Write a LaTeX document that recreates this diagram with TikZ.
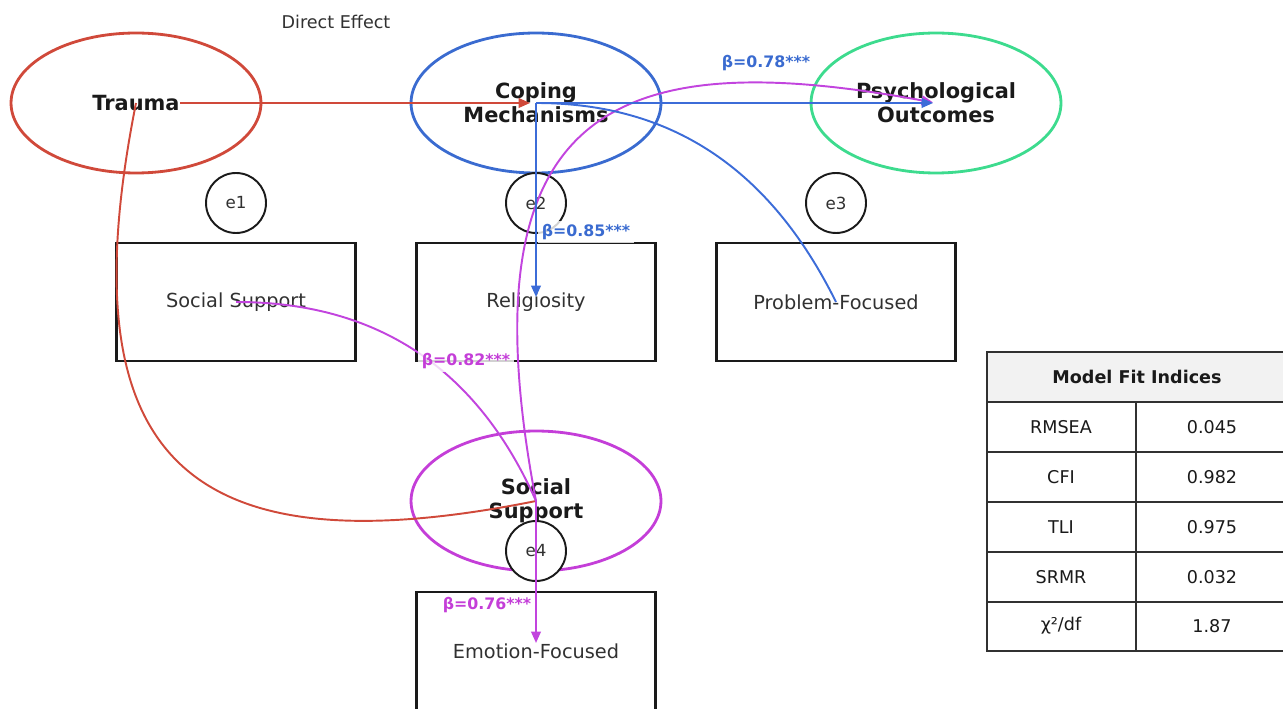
\documentclass[tikz,border=0pt]{standalone}
\usepackage{fontspec}
\setmainfont{DejaVu Sans}
\usetikzlibrary{shapes.geometric,arrows.meta}
\definecolor{tred}{HTML}{D0493A}
\definecolor{cblue}{HTML}{3A6BD0}
\definecolor{pgreen}{HTML}{3DDB8E}
\definecolor{smag}{HTML}{C43ED8}
\definecolor{lblue}{HTML}{3C6CD8}
\definecolor{lmag}{HTML}{C244DE}
\definecolor{ink}{HTML}{1A1A1A}
\definecolor{hdr}{HTML}{F2F2F2}
\begin{document}
\begin{tikzpicture}[x=0.02cm,y=-0.02cm,
  latent/.style={ellipse,line width=1.6pt,minimum width=5cm,minimum height=2.8cm,inner sep=0pt,align=center,
    font=\fontsize{11.9}{13.6}\selectfont\bfseries,text=ink},
  obsbox/.style={rectangle,draw=ink,line width=1.6pt,minimum width=4.78cm,minimum height=2.36cm,inner sep=0pt,
    font=\fontsize{11}{13}\selectfont,text=ink!90},
  errc/.style={circle,draw=ink,fill=white,line width=1.1pt,minimum size=1.2cm,inner sep=0pt,
    font=\fontsize{9.5}{11}\selectfont,text=ink!90},
  conn/.style={line width=1.1pt},
  tip/.style={-{Triangle[length=6.5pt,width=5.5pt]}},
  betalab/.style={font=\fontsize{9}{10}\selectfont\bfseries,fill=white,fill opacity=0.8,text opacity=1,inner sep=2pt},
  cell/.style={font=\fontsize{10}{12}\selectfont,text=ink},
  tline/.style={draw=ink!90,line width=1.3pt}
]
\useasboundingbox (0,0) rectangle (1283,709);
\clip (0,0) rectangle (1283,709);

% latent variables
\node[latent,draw=tred] (trauma) at (136,103) {Trauma};
\node[latent,draw=cblue] (coping) at (536,103) {Coping\\Mechanisms};
\node[latent,draw=pgreen] (psych) at (936,103) {Psychological\\Outcomes};
\node[latent,draw=smag] (social) at (536,501) {Social\\Support};

% observed boxes
\node[obsbox] (ssbox) at (236,302) {Social Support};
\node[obsbox] (relbox) at (536,302) {Religiosity};
\node[obsbox] (probbox) at (836,302) {Problem-Focused};
\node[obsbox] (emobox) at (536,651) {Emotion-Focused};

% error terms
\node[errc] (e1) at (236,203) {e1};
\node[errc] (e2) at (536,203) {e2};
\node[errc] (e3) at (836,203) {e3};
\node[errc] (e4) at (536,551) {e4};

\node[font=\fontsize{10}{12}\selectfont,text=ink!90] (direct) at (336,22) {Direct Effect};

% connectors
\coordinate (tstart) at (180,103);
\draw[conn,tred,tip,shorten >=0.12cm] (tstart) -- (coping.center);
\draw[conn,tred] (trauma.center) .. controls (65,460) and (186,571) .. (social.center);
\draw[conn,lmag,tip,shorten >=0.06cm] (social.center) .. controls (460,101) and (620,45) .. (psych.center);
\draw[conn,lmag] (ssbox.center) .. controls (377,302) and (477,368) .. (social.center);
\draw[conn,lmag,tip,shorten >=0.16cm] (social.center) -- (emobox.center);
\draw[conn,lblue] (coping.center) .. controls (672,103) and (770,169) .. (probbox.center);
\draw[conn,lblue,tip,shorten >=0.1cm] (coping.center) -- (relbox.center);
\draw[conn,lblue,tip,shorten >=0.06cm] (coping.center) -- (psych.center);

% path labels
\node[betalab,text=cblue] (b78) at (766,63) {β=0.78***};
\node[betalab,text=cblue] (b85) at (586,232) {β=0.85***};
\node[betalab,text=smag] (b82) at (466,361) {β=0.82***};
\node[betalab,text=smag] (b76) at (487,605) {β=0.76***};

% fit table
\fill[hdr] (987,352) rectangle (1288,402);
\draw[tline] (987,352) rectangle (1288,651);
\foreach \yy in {402,452,502,552,602} \draw[tline] (987,\yy) -- (1288,\yy);
\draw[tline] (1136,402) -- (1136,651);
\node[cell,font=\fontsize{10}{12}\selectfont\bfseries] (thead) at (1137,377) {Model Fit Indices};
\node[cell] (r1a) at (1061,427) {RMSEA};
\node[cell] (r1b) at (1212,427) {0.045};
\node[cell] (r2a) at (1061,477) {CFI};
\node[cell] (r2b) at (1212,477) {0.982};
\node[cell] (r3a) at (1061,527) {TLI};
\node[cell] (r3b) at (1212,527) {0.975};
\node[cell] (r4a) at (1061,577) {SRMR};
\node[cell] (r4b) at (1212,577) {0.032};
\node[cell] (r5a) at (1061,626) {χ²/df};
\node[cell] (r5b) at (1212,626) {1.87};
\end{tikzpicture}
\end{document}
